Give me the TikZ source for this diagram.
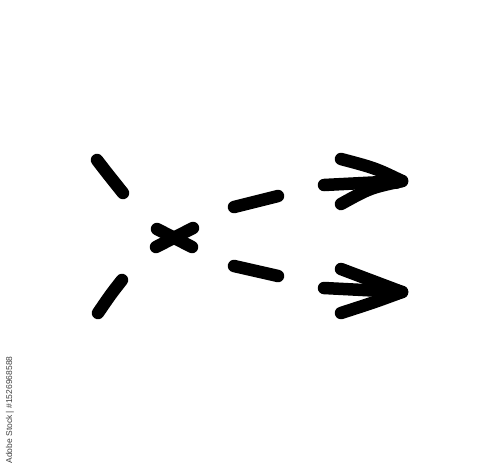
\documentclass[tikz,border=0pt]{standalone}
\usepackage{fontspec}
\setmainfont{Liberation Sans}
\begin{document}
\begin{tikzpicture}[x=1pt,y=-1pt,
  stroke/.style={line width=12.5pt,line cap=round,line join=round,black},
  stamp/.style={font=\fontsize{8.5}{10}\selectfont,text=black!75,inner sep=0pt,rotate=90}]
\useasboundingbox (0,0) rectangle (500,475);
% strokes
\coordinate (a1) at (97,160); \coordinate (a2) at (123,193);
\draw[stroke] (a1) .. controls (107,173) .. (a2);
\coordinate (b1) at (122,280); \coordinate (b2) at (98,313);
\draw[stroke] (b1) .. controls (111,294) .. (b2);
% cross
\coordinate (c1) at (157,229); \coordinate (c2) at (192,247);
\coordinate (c3) at (156,247); \coordinate (c4) at (193,228);
\draw[stroke] (c1) -- (c2);
\draw[stroke] (c3) -- (c4);
% dashes
\coordinate (d1) at (234,207); \coordinate (d2) at (278,196);
\draw[stroke] (d1) -- (d2);
\coordinate (e1) at (234,266); \coordinate (e2) at (278,276);
\draw[stroke] (e1) -- (e2);
% upper arrow
\coordinate (u0) at (324,185); \coordinate (ut) at (402,181);
\coordinate (ua) at (341,159); \coordinate (ub) at (341,204);
\draw[stroke] (u0) -- (ut);
\draw[stroke] (ua) .. controls (375,168) .. (ut);
\draw[stroke] (ub) .. controls (370,188) .. (ut);
\fill (396,181) circle (8pt);
% lower arrow
\coordinate (l0) at (324,288); \coordinate (lt) at (402,292);
\coordinate (la) at (341,269); \coordinate (lb) at (341,313);
\draw[stroke] (l0) -- (lt);
\draw[stroke] (la) .. controls (372,280) .. (lt);
\draw[stroke] (lb) .. controls (375,302) .. (lt);
\fill (396,292) circle (8pt);
% stamp
\node[stamp] (s) at (10,410) {Adobe Stock | \#1526968588};
\end{tikzpicture}
\end{document}
